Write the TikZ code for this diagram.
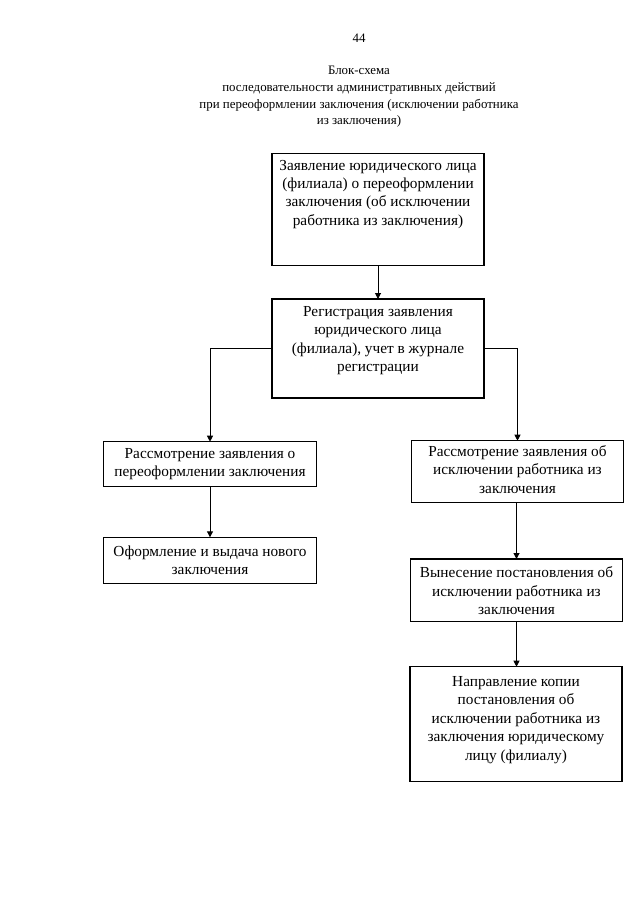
\documentclass[tikz,border=0pt]{standalone}
\usepackage{fontspec}
\setmainfont{Liberation Serif}
\usetikzlibrary{arrows.meta}
\newcommand{\bxtext}[4]{\parbox[c][#2pt][t]{#1pt}{\vspace*{#3pt}\centering\strut #4\par}}
\tikzset{
  boxnode/.style={draw, line width=1.1pt, inner sep=0pt, outer sep=0pt, anchor=north west,
    font=\fontsize{15.3}{18.4}\selectfont},
  arr/.style={draw, line width=1pt, -{Triangle[length=6pt,width=6pt]}},
  titletext/.style={inner sep=0pt, font=\fontsize{12.9}{16.7}\selectfont}
}
\begin{document}
\begin{tikzpicture}[x=1pt,y=-1pt]
\useasboundingbox[fill=white] (0,0) rectangle (640,905);
\node[titletext, anchor=base] (pg) at (359,42.7) {44};
\node[titletext, anchor=north, align=center] (title) at (359,66)
  {Блок-схема\\последовательности административных действий\\при переоформлении заключения (исключении работника\\из заключения)};
\node[boxnode] (b1) at (272,153.3) {\bxtext{212}{112}{4}{Заявление юридического лица\\(филиала) о переоформлении\\заключения (об исключении\\работника из заключения)}};
\node[boxnode] (b2) at (272,299) {\bxtext{212}{99}{4.5}{Регистрация заявления\\юридического лица\\(филиала), учет в журнале\\регистрации}};
\node[boxnode] (b3) at (103.5,441.7) {\bxtext{213}{45}{4}{Рассмотрение заявления о\\переоформлении заключения}};
\node[boxnode] (b4) at (103.5,537.3) {\bxtext{213}{46}{6}{Оформление и выдача нового\\заключения}};
\node[boxnode] (b5) at (411.5,440.7) {\bxtext{212}{62}{3}{Рассмотрение заявления об\\исключении работника из\\заключения}};
\node[boxnode] (b6) at (410.5,559) {\bxtext{212}{62.7}{6}{Вынесение постановления об\\исключении работника из\\заключения}};
\node[boxnode] (b7) at (410,666.7) {\bxtext{212}{115}{7}{Направление копии\\постановления об\\исключении работника из\\заключения юридическому\\лицу (филиалу)}};
\draw[arr] (b1.south) -- (b2.north);
\draw[arr] (b2.west) -| (b3.north);
\draw[arr] (b2.east) -| (b5.north);
\draw[arr] (b3.south) -- (b4.north);
\draw[arr] (b5.south -| b6.north) -- (b6.north);
\draw[arr] (b6.south -| b6.north) -- (b6.south |- b7.north);
\end{tikzpicture}
\end{document}
